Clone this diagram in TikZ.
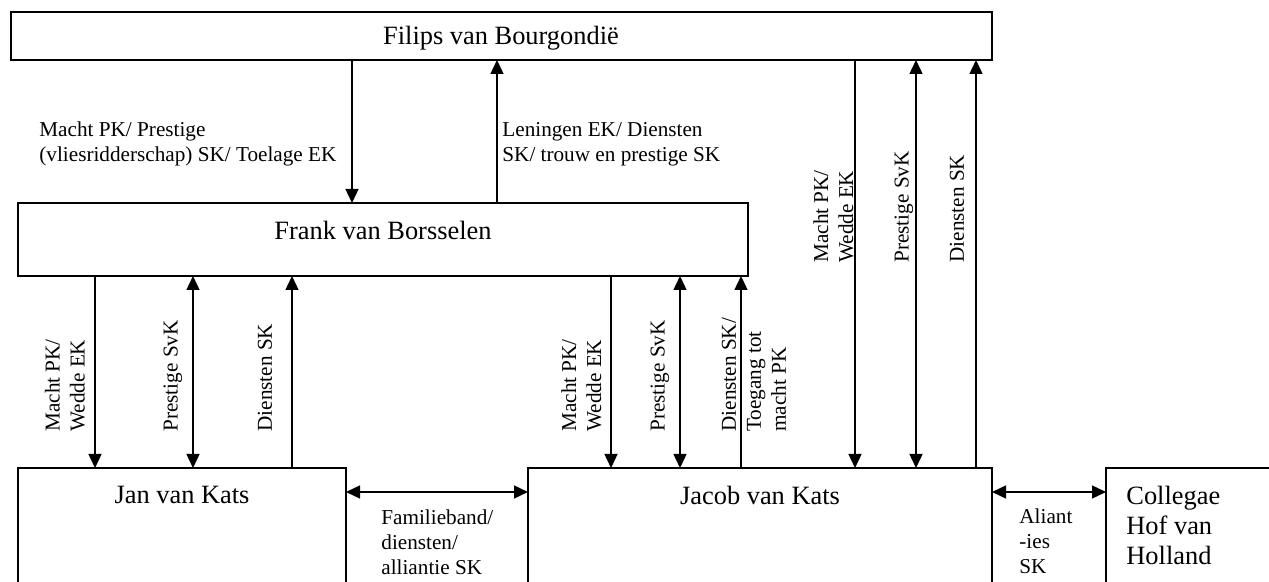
\documentclass[tikz,border=0pt]{standalone}
\usepackage{fontspec}
\setmainfont{Liberation Serif}
\usetikzlibrary{arrows.meta}
\begin{document}
\begin{tikzpicture}[x=0.5pt,y=-0.5pt,
  box/.style={draw,line width=1pt,inner sep=0pt,outer sep=0pt,rectangle},
  title/.style={inner sep=0pt,font=\fontsize{13.2}{15}\selectfont},
  lbl/.style={inner sep=0pt,align=left,font=\fontsize{10.6}{12.5}\selectfont},
  rlbl/.style={lbl,rotate=90,anchor=west},
  conn/.style={line width=0.7pt},
  oneway/.style={conn,-{Triangle[length=7pt,width=6.5pt]}},
  twoway/.style={conn,{Triangle[length=7pt,width=6.5pt]}-{Triangle[length=7pt,width=6.5pt]}}
]
\useasboundingbox (0,0) rectangle (1269,582);
\clip (0,0) rectangle (1269,582);
\fill[white] (0,0) rectangle (1269,582);

% boxes
\node[box,minimum width=490.5pt,minimum height=24pt] (filips) at (501.5,36) {};
\node[box,minimum width=365pt,minimum height=36.5pt] (frank) at (383,239.5) {};
\node[box,minimum width=164pt,minimum height=66pt] (jan) at (182,534) {};
\node[box,minimum width=232pt,minimum height=66pt] (jacob) at (760,534) {};
\node[box,minimum width=97pt,minimum height=66pt] (coll) at (1203,534) {};

% titles
\node[title] (tfilips) at (501,38) {Filips van Bourgondië};
\node[title] (tfrank) at (383,230) {Frank van Borsselen};
\node[title] (tjan) at (182,495) {Jan van Kats};
\node[title] (tjacob) at (760,495) {Jacob van Kats};
\node[title,align=left,anchor=west] (tcoll) at (1126,525) {Collegae\\Hof van\\Holland};

% Filips <-> Frank
\draw[oneway] (filips.south -| 352,0) -- (frank.north -| 352,0);
\draw[oneway] (frank.north -| 497,0) -- (filips.south -| 497,0);
\node[lbl,anchor=west] (l1) at (39,144) {Macht PK/ Prestige\\(vliesridderschap) SK/ Toelage EK};
\node[lbl,anchor=west] (l2) at (502,144) {Leningen EK/ Diensten\\SK/ trouw en prestige SK};

% Frank <-> Jan
\draw[oneway] (frank.south -| 95,0) -- (jan.north -| 95,0);
\draw[twoway] (frank.south -| 193,0) -- (jan.north -| 193,0);
\draw[oneway] (jan.north -| 292,0) -- (frank.south -| 292,0);
\node[rlbl] (l3) at (65,432) {Macht PK/\\Wedde EK};
\node[rlbl] (l4) at (173,432) {Prestige SvK};
\node[rlbl] (l5) at (265,432) {Diensten SK};

% Frank <-> Jacob
\draw[oneway] (frank.south -| 611,0) -- (jacob.north -| 611,0);
\draw[twoway] (frank.south -| 680,0) -- (jacob.north -| 680,0);
\draw[oneway] (jacob.north -| 741,0) -- (frank.south -| 741,0);
\node[rlbl] (l6) at (581.5,432) {Macht PK/\\Wedde EK};
\node[rlbl] (l7) at (660,432) {Prestige SvK};
\node[rlbl] (l8) at (754,432) {Diensten SK/\\Toegang tot\\macht PK};

% Filips <-> Jacob
\draw[oneway] (filips.south -| 855,0) -- (jacob.north -| 855,0);
\draw[twoway] (filips.south -| 916,0) -- (jacob.north -| 916,0);
\draw[oneway] (jacob.north -| 976,0) -- (filips.south -| 976,0);
\node[rlbl] (l9) at (833.5,263) {Macht PK/\\Wedde EK};
\node[rlbl] (l10) at (904,263) {Prestige SvK};
\node[rlbl] (l11) at (957,263) {Diensten SK};

% horizontal links
\draw[twoway] (jan.east |- 0,492) -- (jacob.west |- 0,492);
\node[lbl,anchor=west] (l12) at (381,542) {Familieband/\\diensten/\\alliantie SK};
\draw[twoway] (jacob.east |- 0,492) -- (coll.west |- 0,492);
\node[lbl,anchor=west] (l13) at (1019,541) {Aliant\\-ies\\SK};
\end{tikzpicture}
\end{document}
